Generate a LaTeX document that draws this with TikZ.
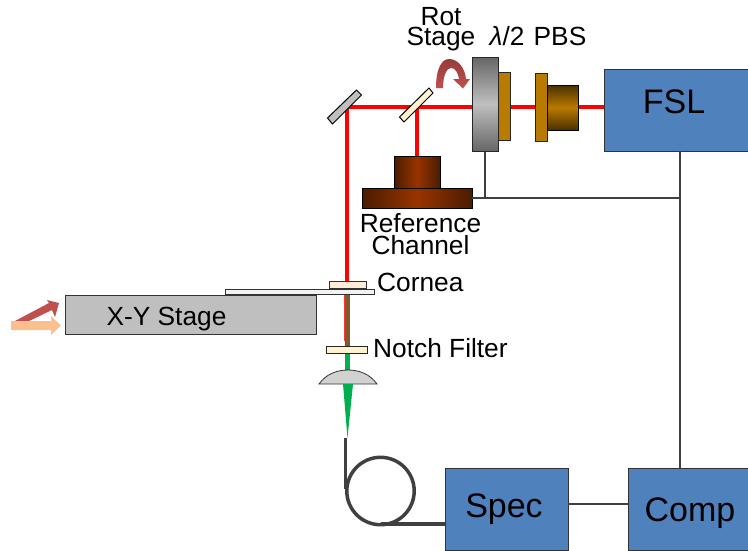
\documentclass[tikz,border=0pt]{standalone}
\usepackage{fontspec}
\setmainfont{Liberation Sans}
\usetikzlibrary{arrows.meta}
\definecolor{fslblue}{HTML}{4F81BD}
\definecolor{plate}{HTML}{B97A00}
\definecolor{brownA}{HTML}{4A1C00}
\definecolor{brownB}{HTML}{993300}
\definecolor{cubeA}{HTML}{4A3000}
\definecolor{beamgreen}{HTML}{00B050}
\definecolor{beambrown}{HTML}{7F5A2B}
\definecolor{arrowred}{HTML}{C0504D}
\definecolor{arrowdark}{HTML}{963C3A}
\definecolor{arrowpeach}{HTML}{FAC090}
\definecolor{cream}{HTML}{FFF2CC}
\tikzset{
  x=1pt,y=-1pt,
  box/.style={draw=black!80,line width=1pt,fill=#1,inner sep=0pt,outer sep=0pt,anchor=north west},
  bluebox/.style={box=fslblue},
  lbl/.style={inner sep=0pt,font=\fontsize{26.3}{20}\selectfont,align=center},
  biglbl/.style={inner sep=0pt,font=\fontsize{34}{34}\selectfont},
  beam/.style={draw=red,line width=4pt},
  wire/.style={draw=black!75,line width=1.3pt},
  fiber/.style={draw=black!75,line width=3.5pt},
}
\newcommand{\boxat}[6]{\node[#6,minimum width=#4*1pt-#2*1pt,minimum height=#5*1pt-#3*1pt] (#1) at (#2,#3) {};}
\begin{document}
\begin{tikzpicture}
\useasboundingbox (0,0) rectangle (748,550);
\coordinate (turn) at (347,107);
\coordinate (split) at (417,107);
\coordinate (stem) at (347,283);
\coordinate (tap) at (485,198);
\coordinate (junction) at (680,198);
\coordinate (fibertop) at (345.5,438);
\coordinate (fiberleft) at (345.5,489);
\coordinate (fiberbottom) at (380.5,524);
\coordinate (specout) at (568,504);
\boxat{fsl}{604}{69}{748}{151}{bluebox}
\boxat{spec}{445}{468}{568}{550}{bluebox}
\boxat{comp}{628}{468}{748}{550}{bluebox}
\draw[wire] (fsl.south west -| junction) -- (comp.north west -| junction);
\draw[wire] (specout) -- (specout -| comp.west);
\draw[beam] (fsl.west |- turn) -- (turn) -- (stem);
\draw[beam] (split) -- (417,156);
% reference channel
\path[shade,left color=brownA,right color=brownA,middle color=brownB,draw=black,line width=1pt] (394,156) rectangle (440,188);
\path[shade,left color=brownA,right color=brownA,middle color=brownB,draw=black,line width=1pt] (362,188) rectangle (472,208);
\coordinate (refright) at (472,198);
\draw[wire] (refright) -- (junction);
\draw[wire] (485,151) -- (tap);
% mirrors
\draw[fill=black!25,line width=1pt] (327.5,118) -- (332.5,124) -- (361.5,95) -- (356.5,90) -- cycle;
\draw[fill=cream,line width=1pt] (399.5,117) -- (404,122) -- (433,93) -- (429,88) -- cycle;
% waveplates
\path[shade,top color=black!60,bottom color=black!60,middle color=black!25,draw=black!85,line width=1pt] (472,57) rectangle (498,151);
\draw[fill=plate,line width=1pt,draw=black!85] (498,72) rectangle (510,140);
\draw[fill=plate,line width=1pt,draw=black!85] (535,73) rectangle (547,141);
\path[shade,top color=cubeA,bottom color=cubeA,middle color=plate,draw=black,line width=1pt] (547,85) rectangle (578,130);
% rotation arrow
\path[shade,top color=arrowdark,bottom color=arrowred] (436,88) .. controls (436,68) and (442,59) .. (449,59) .. controls (458,59) and (465,68) .. (466,79) -- (470,79) -- (463,88.5) -- (453,79) -- (459,79) .. controls (458,72) and (455,68) .. (451,68) .. controls (447,68) and (443,75) .. (443,88) -- cycle;
% labels
\node[lbl] (rotstage) at (441,29) {Rot\\Stage};
\node[lbl] (lam) at (507,36) {\itshape λ\upshape/2};
\node[lbl] (pbs) at (560,36) {PBS};
\node[biglbl] (fsltext) at (674,102) {FSL};
\node[biglbl] (spectext) at (504,509) {Spec};
\node[biglbl] (comptext) at (690,513) {Comp};
\node[lbl,font=\fontsize{26.3}{22}\selectfont] (reflabel) at (420.5,234.5) {Reference\\Channel};
% sample
\draw[draw=black!80,fill=orange!15,line width=1pt] (329,281) rectangle (366,288);
\draw[draw=black!80,fill=black!5,line width=1pt] (225,289) rectangle (374,294.5);
\boxat{xy}{65}{295}{316}{334}{box=black!25}
\node[lbl] (xylabel) at (166.5,319) {X-Y Stage};
\node[lbl,anchor=west] (cornea) at (377,282.5) {Cornea};
\node[lbl,anchor=west] (notch) at (373,348.5) {Notch Filter};
% transmitted beam
\fill[red!80] (344,295) rectangle (345.5,341);
\fill[beambrown] (345,295) rectangle (350,346);
\fill[beamgreen] (345,353) rectangle (350,371);
\draw[draw=black!85,fill=cream,line width=1pt] (326,346) rectangle (367,353);
\draw[draw=black!80,fill=black!18,line width=0.8pt] (319,384) .. controls (326,374) and (337,370) .. (348,370) .. controls (359,370) and (370,374) .. (377,384) -- cycle;
\fill[beamgreen] (343,384) -- (353,384) -- (347.5,438) -- cycle;
% fibre
\draw[fiber] (fibertop) -- (fiberleft);
\draw[fiber] (380.5,491) circle [radius=33.7];
\draw[fiber] (fiberbottom) -- (spec.west |- fiberbottom);
% arrows
\fill[arrowred] (15,321) -- (49,303) -- (47,300) -- (59,303) -- (55,317) -- (52,310) -- (25,323) -- cycle;
\fill[arrowpeach] (11,321) -- (51,321) -- (51,316) -- (61,325.5) -- (51,335) -- (51,330) -- (11,330) -- cycle;
\end{tikzpicture}
\end{document}
